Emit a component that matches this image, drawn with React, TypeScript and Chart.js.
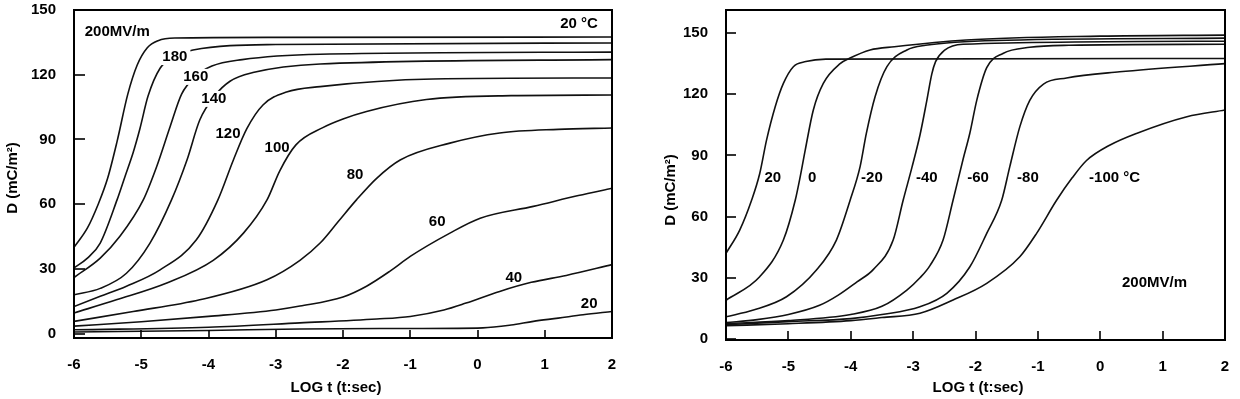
import { useEffect, useRef } from 'react';
import { Chart, registerables } from 'chart.js';

Chart.register(...registerables);

// ---------- shared axis ticks ----------
const logTicks = [-6, -5, -4, -3, -2, -1, 0, 1, 2];
const dTicks = [0, 30, 60, 90, 120, 150];

// ---------- left panel: 20 °C, field in MV/m ----------
const logT_E200 = [-6, -5.8, -5.64, -5.5, -5.36, -5.2, -5.06, -4.91, -4.75, -4.5, -3, 2];
const d_E200 = [40, 49, 60, 72, 89, 111, 124.5, 132.5, 135.8, 137, 137.3, 137.5];

const logT_E180 = [-6, -5.8, -5.61, -5.36, -5.24, -5.12, -5.02, -4.9, -4.72, -4.5, -4.23, -3, 2];
const d_E180 = [30.5, 35, 42, 62, 73, 84, 95, 110, 123, 128.5, 131.5, 134, 134.7];

const logT_E160 = [-6, -5.61, -5.32, -4.97, -4.77, -4.57, -4.4, -4.2, -3.95, -3.5, -2.34, 2];
const d_E160 = [26, 35, 45, 62, 77.5, 96, 111, 119, 124, 127, 129.5, 130.5];

const logT_E140 = [-6, -5.61, -5.22, -4.87, -4.55, -4.32, -4.13, -3.9, -3.68, -3.34, -2.34, 2];
const d_E140 = [18, 21, 28, 42, 62, 80.5, 99, 110.5, 117, 121, 125, 127];

const logT_E120 = [-6, -5.61, -5.22, -4.72, -4.18, -3.86, -3.63, -3.43, -3.19, -2.84, -2.34, -0.66, 2];
const d_E120 = [12.6, 17.3, 22, 29.6, 43.5, 62, 80.5, 95, 106, 112, 114.5, 118, 118.5];

const logT_E100 = [-6, -5.37, -4.62, -3.93, -3.48, -3.13, -2.94, -2.7, -2.3, -2.0, -1.65, -0.76, 0.5, 2];
const d_E100 = [9.6, 15.7, 23.5, 34, 46.6, 62, 75.5, 87.5, 95.5, 99.5, 103, 108.5, 110.3, 110.6];

const logT_E80 = [-6, -5.12, -4.13, -3.13, -2.64, -2.34, -2.07, -1.8, -1.5, -1.15, -0.41, 0.33, 1.2, 2];
const d_E80 = [5.7, 10.3, 15.7, 25, 34, 42, 52, 62, 72, 80.5, 88.3, 93, 94.7, 95.3];

const logT_E60 = [-6, -5, -4, -3, -2.64, -2, -1.65, -1.3, -1, -0.41, 0.04, 0.83, 1.5, 2];
const d_E60 = [3.5, 5.5, 8, 11, 12.8, 17, 22, 29, 35.8, 46.6, 53.5, 59, 64, 67.4];

const logT_E40 = [-6, -4, -2.64, -1.5, -1, -0.5, -0.17, 0.33, 0.8, 1.32, 2];
const d_E40 = [1.8, 3, 5, 6.8, 8, 11, 14.2, 19.6, 23.8, 27, 32];

const logT_E20 = [-6, -4, -2.64, -1, 0.08, 0.5, 0.83, 1.2, 1.57, 2];
const d_E20 = [0.8, 1.5, 2.2, 2.4, 2.7, 4, 5.7, 7.2, 8.8, 10.3];

// ---------- right panel: 200 MV/m, temperature in °C ----------
const logT_T20 = [-6, -5.78, -5.59, -5.46, -5.35, -5.21, -5.08, -4.92, -4.72, -4.4, 2];
const d_T20 = [42, 53.4, 68, 81, 97.5, 114, 125.3, 133.5, 136, 137.2, 137.5];

const logT_T0 = [-6, -5.46, -5.08, -4.89, -4.81, -4.73, -4.6, -4.44, -4.17, -4.02, -3.69, -3.3, -2.15, 0, 2];
const d_T0 = [19, 30.5, 48.5, 68, 79.6, 92.6, 112.3, 125.3, 135, 137.6, 141.7, 143.3, 146.6, 148.5, 149];

const logT_Tm20 = [-6, -5.56, -5.03, -4.55, -4.23, -4.01, -3.85, -3.75, -3.61, -3.42, -3.1, -2.8, -1.5, 2];
const d_Tm20 = [10.9, 14.2, 20.7, 33.8, 48.5, 68, 84.5, 100.8, 118.8, 133.5, 141.7, 144, 146.5, 147.5];

const logT_Tm40 = [-6, -5.5, -5, -4.5, -4.2, -3.9, -3.64, -3.32, -3.16, -3.02, -2.89, -2.78, -2.7, -2.64, -2.5, -2.2, 2];
const d_Tm40 = [8, 9.5, 12, 16.5, 21.5, 28, 34, 48.5, 68, 84, 100, 117, 130, 136, 141.5, 144.5, 146];

const logT_Tm60 = [-6, -5, -4, -3.5, -3.1, -2.89, -2.73, -2.52, -2.36, -2.2, -2.09, -1.98, -1.82, -1.56, -1.13, -0.5, 2];
const d_Tm60 = [7.5, 9, 12, 16, 24, 30, 36, 48.5, 68, 88, 101, 117, 133, 140, 143, 144, 144.5];

const logT_Tm80 = [-6, -5, -4, -3.5, -2.89, -2.46, -2.09, -1.82, -1.58, -1.45, -1.29, -1.13, -0.91, -0.54, 0.31, 2];
const d_Tm80 = [7, 8.5, 10, 12, 15.8, 22.4, 35.4, 51.8, 68, 84.5, 104, 117, 125, 128, 131, 135];

const logT_Tm100 = [-6, -5, -4, -3.5, -2.89, -2.36, -1.82, -1.29, -1.02, -0.7, -0.45, -0.22, 0.15, 0.58, 1.39, 2];
const d_Tm100 = [6.5, 7.5, 9, 10.5, 12.6, 19.1, 27.3, 40.3, 51.8, 68, 79, 87.5, 95, 100.8, 109, 112.3];

const fieldSeries = [
  { name: '200', x: logT_E200, y: d_E200 },
  { name: '180', x: logT_E180, y: d_E180 },
  { name: '160', x: logT_E160, y: d_E160 },
  { name: '140', x: logT_E140, y: d_E140 },
  { name: '120', x: logT_E120, y: d_E120 },
  { name: '100', x: logT_E100, y: d_E100 },
  { name: '80', x: logT_E80, y: d_E80 },
  { name: '60', x: logT_E60, y: d_E60 },
  { name: '40', x: logT_E40, y: d_E40 },
  { name: '20', x: logT_E20, y: d_E20 },
];

const tempSeries = [
  { name: '20', x: logT_T20, y: d_T20 },
  { name: '0', x: logT_T0, y: d_T0 },
  { name: '-20', x: logT_Tm20, y: d_Tm20 },
  { name: '-40', x: logT_Tm40, y: d_Tm40 },
  { name: '-60', x: logT_Tm60, y: d_Tm60 },
  { name: '-80', x: logT_Tm80, y: d_Tm80 },
  { name: '-100', x: logT_Tm100, y: d_Tm100 },
];

const FONT = '"Liberation Sans", Arial, sans-serif';

type Note = { text: string; x: number; y: number; bg?: boolean; align?: CanvasTextAlign };

type PanelSpec = {
  series: { name: string; x: number[]; y: number[] }[];
  yMin: number;
  yMax: number;
  yAxisWidth: number;
  xAxisHeight: number;
  padRight: number;
  yTickLen: number;
  xTickLen: number;
  notes: Note[];
  xTitle: { x: number; y: number };
  yTitle: { x: number; y: number };
};

function makeOverlay(spec: PanelSpec) {
  return {
    id: 'overlay',
    afterDatasetsDraw(chart: any) {
      const { ctx, chartArea: a, scales } = chart;
      const xs = scales.x;
      const ys = scales.y;
      ctx.save();
      ctx.strokeStyle = '#000';
      ctx.lineWidth = 2;
      ctx.strokeRect(a.left, a.top, a.right - a.left, a.bottom - a.top);

      // inward tick marks
      ctx.lineWidth = 1.6;
      xs.ticks.forEach((t: any) => {
        const px = Math.round(xs.getPixelForValue(t.value));
        ctx.beginPath();
        ctx.moveTo(px, a.bottom);
        ctx.lineTo(px, a.bottom - spec.xTickLen);
        ctx.stroke();
      });
      ys.ticks.forEach((t: any) => {
        const py = Math.round(ys.getPixelForValue(t.value));
        ctx.beginPath();
        ctx.moveTo(a.left, py);
        ctx.lineTo(a.left + spec.yTickLen, py);
        ctx.stroke();
      });

      // curve labels
      ctx.font = `bold 15px ${FONT}`;
      ctx.textBaseline = 'middle';
      ctx.fillStyle = '#000';
      for (const n of spec.notes) {
        const px = xs.getPixelForValue(n.x);
        const py = ys.getPixelForValue(n.y);
        const align = n.align || 'center';
        const w = ctx.measureText(n.text).width;
        if (n.bg) {
          const left = align === 'center' ? px - w / 2 : px;
          ctx.fillStyle = '#fff';
          ctx.fillRect(left - 3, py - 8, w + 6, 16);
          ctx.fillStyle = '#000';
        }
        ctx.textAlign = align;
        ctx.fillText(n.text, px, py);
      }

      // axis titles
      ctx.textAlign = 'center';
      ctx.fillText('LOG t (t:sec)', spec.xTitle.x, spec.xTitle.y);
      ctx.translate(spec.yTitle.x, spec.yTitle.y);
      ctx.rotate(-Math.PI / 2);
      ctx.fillText('D (mC/m\u00B2)', 0, 0);
      ctx.restore();
    },
  };
}

function buildConfig(spec: PanelSpec): any {
  const tickFont = { family: FONT, size: 15, weight: 'bold' as const };
  return {
    type: 'line',
    data: {
      datasets: spec.series.map((s) => ({
        label: s.name,
        data: s.x.map((x, i) => ({ x, y: s.y[i] })),
        borderColor: '#111',
        borderWidth: 1.6,
        pointRadius: 0,
        fill: false,
        cubicInterpolationMode: 'monotone',
      })),
    },
    options: {
      responsive: false,
      animation: false,
      events: [],
      layout: { padding: { left: 0, right: spec.padRight, top: 10, bottom: 0 } },
      plugins: { legend: { display: false }, tooltip: { enabled: false } },
      scales: {
        x: {
          type: 'linear',
          min: -6,
          max: 2,
          grid: { display: false },
          border: { display: false },
          afterBuildTicks: (s: any) => {
            s.ticks = logTicks.map((v) => ({ value: v }));
          },
          afterFit: (s: any) => {
            s.height = spec.xAxisHeight;
            s.paddingLeft = 0;
            s.paddingRight = 0;
          },
          ticks: { color: '#000', font: tickFont, padding: 10, maxRotation: 0, callback: (v: number) => String(v) },
        },
        y: {
          type: 'linear',
          min: spec.yMin,
          max: spec.yMax,
          grid: { display: false },
          border: { display: false },
          afterBuildTicks: (s: any) => {
            s.ticks = dTicks.map((v) => ({ value: v }));
          },
          afterFit: (s: any) => {
            s.width = spec.yAxisWidth;
            s.paddingTop = 0;
            s.paddingBottom = 0;
          },
          ticks: { color: '#000', font: tickFont, padding: 10, callback: (v: number) => String(v) },
        },
      },
    },
    plugins: [makeOverlay(spec)],
  };
}

const leftSpec: PanelSpec = {
  series: fieldSeries,
  yMin: -2,
  yMax: 150,
  yAxisWidth: 74,
  xAxisHeight: 61,
  padRight: 8,
  yTickLen: 11,
  xTickLen: 8,
  notes: [
    { text: '200MV/m', x: -5.84, y: 139.8, align: 'left' },
    { text: '20 \u00B0C', x: 1.51, y: 143.5 },
    { text: '180', x: -4.5, y: 128.2, bg: true },
    { text: '160', x: -4.19, y: 119, bg: true },
    { text: '140', x: -3.92, y: 108.8, bg: true },
    { text: '120', x: -3.71, y: 92.6 },
    { text: '100', x: -2.98, y: 86.1 },
    { text: '80', x: -1.82, y: 73.6 },
    { text: '60', x: -0.6, y: 51.9 },
    { text: '40', x: 0.54, y: 25.9 },
    { text: '20', x: 1.66, y: 13.9 },
  ],
  xTitle: { x: 336, y: 388 },
  yTitle: { x: 13, y: 178 },
};

const rightSpec: PanelSpec = {
  series: tempSeries,
  yMin: -0.5,
  yMax: 161.3,
  yAxisWidth: 106,
  xAxisHeight: 59,
  padRight: 15,
  yTickLen: 10,
  xTickLen: 9,
  notes: [
    { text: '20', x: -5.25, y: 78.9 },
    { text: '0', x: -4.62, y: 78.9 },
    { text: '-20', x: -3.66, y: 78.9 },
    { text: '-40', x: -2.78, y: 78.9 },
    { text: '-60', x: -1.96, y: 78.9 },
    { text: '-80', x: -1.16, y: 78.9 },
    { text: '-100 \u00B0C', x: 0.23, y: 78.9 },
    { text: '200MV/m', x: 0.87, y: 27.5 },
  ],
  xTitle: { x: 358, y: 388 },
  yTitle: { x: 51, y: 190 },
};

function Panel({ spec, left }: { spec: PanelSpec; left: number }) {
  const ref = useRef<HTMLCanvasElement | null>(null);
  useEffect(() => {
    if (!ref.current) return;
    const chart = new Chart(ref.current, buildConfig(spec));
    return () => chart.destroy();
  }, [spec]);
  return (
    <canvas
      ref={ref}
      width={620}
      height={399}
      style={{ position: 'absolute', left, top: 0, width: 620, height: 399 }}
    />
  );
}

export default function App() {
  return (
    <div style={{ position: 'absolute', left: 0, top: 0, width: 1240, height: 399, background: '#fff' }}>
      <Panel spec={leftSpec} left={0} />
      <Panel spec={rightSpec} left={620} />
    </div>
  );
}
